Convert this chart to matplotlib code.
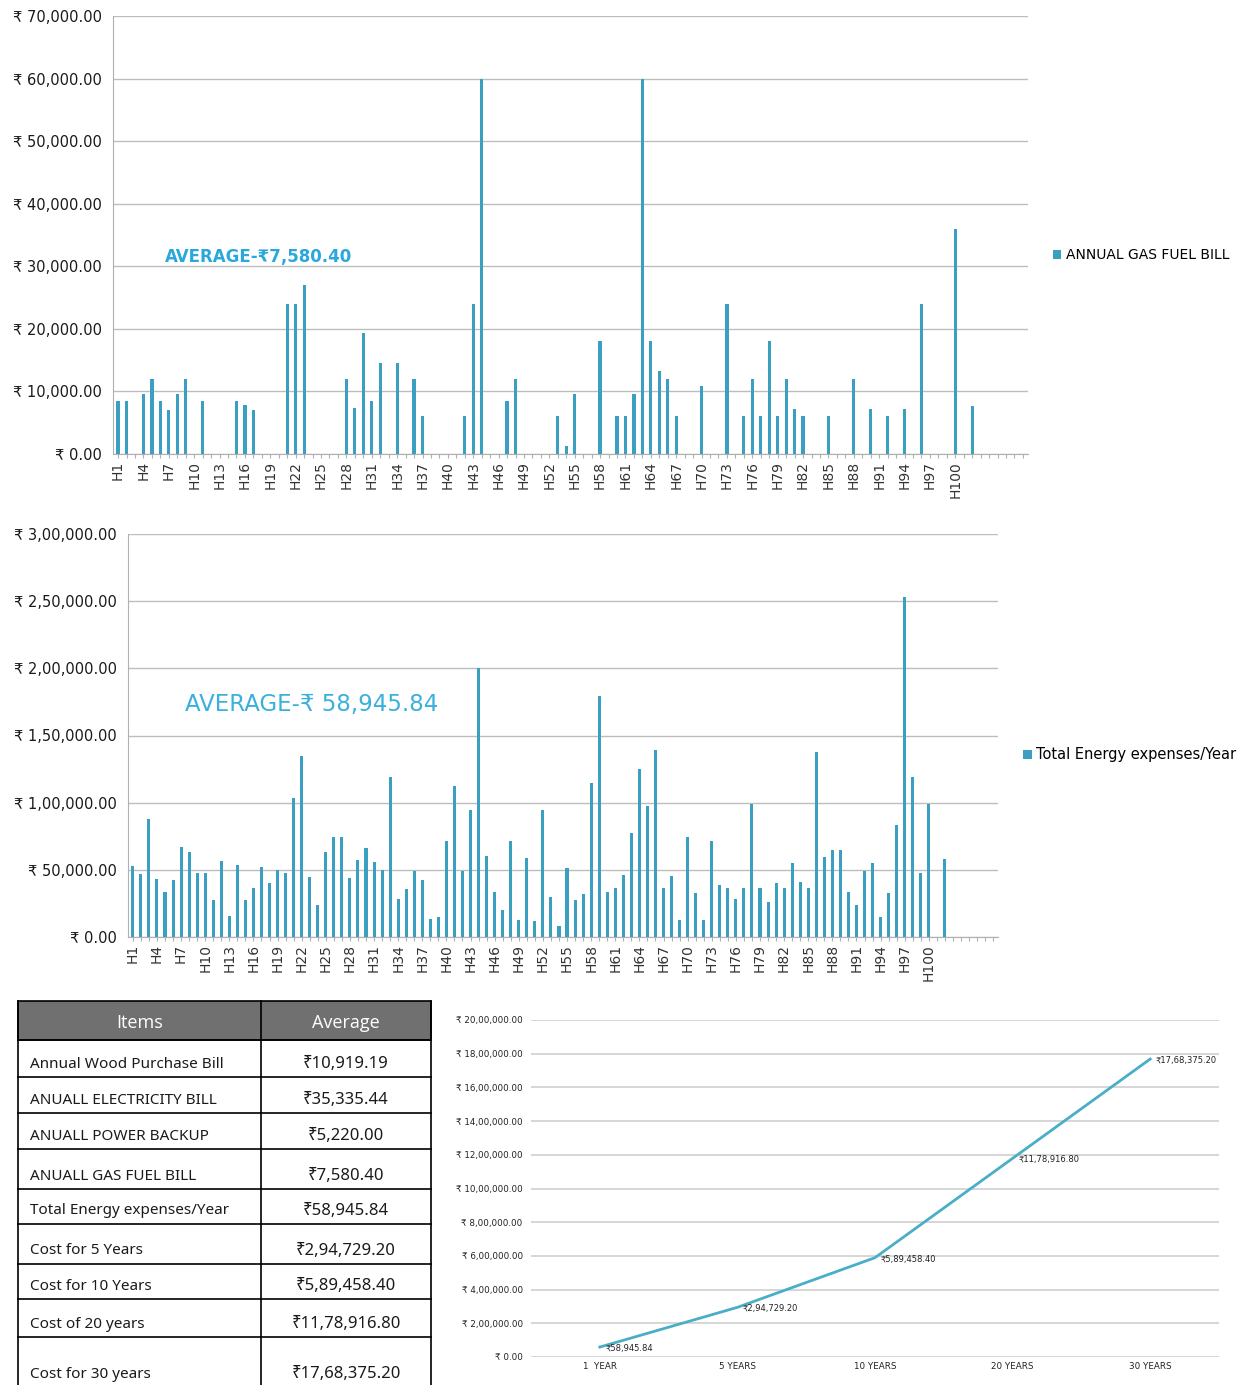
import numpy as np
import matplotlib.pyplot as plt
from matplotlib.patches import Rectangle

plt.rcParams['font.family'] = ['DejaVu Sans']

houses = [f"H{i}" for i in range(1, 101)] + [""] * 8

gas_fuel_bill = [
    8400, 8400, 0, 9600, 12000, 8400, 7100, 9600, 12000, 0,
    8400, 0, 0, 0, 8400, 7900, 7100, 0, 0, 0,
    24000, 24000, 27000, 0, 0, 0, 0, 12000, 7300, 19300,
    8400, 14500, 0, 14500, 0, 12000, 6000, 0, 0, 0,
    0, 6000, 24000, 60000, 0, 0, 8400, 12000, 0, 0,
    0, 0, 6000, 1300, 9600, 0, 0, 18000, 0, 6000,
    6000, 9600, 60000, 18000, 13200, 12000, 6000, 0, 0, 10800,
    0, 0, 24000, 0, 6000, 12000, 6000, 18000, 6000, 12000,
    7200, 6000, 0, 0, 6000, 0, 0, 12000, 0, 7200,
    0, 6000, 0, 7200, 0, 24000, 0, 0, 0, 36000,
    0, 7600, 0, 0, 0, 0, 0, 0,
]

total_energy = [
    52500, 47000, 87900, 43300, 33400, 42100, 66800, 63100, 47500, 47500,
    27200, 56400, 15300, 53700, 27200, 36400, 52000, 40100, 50000, 47500,
    103500, 134900, 44500, 24000, 63100, 74700, 74700, 43800, 57400, 66300,
    55700, 50000, 119300, 28000, 35900, 49000, 42100, 13100, 14900, 71300,
    112600, 49500, 94800, 200000, 60100, 33400, 19800, 71300, 12400, 58900,
    11600, 94800, 30000, 7900, 51200, 27700, 31700, 114300, 179400, 33400,
    36400, 46500, 77500, 125000, 97800, 139100, 36400, 45300, 12400, 74700,
    32900, 12900, 71800, 38400, 36400, 28000, 36400, 99000, 36400, 26000,
    40100, 36400, 54900, 40800, 36400, 137400, 59400, 65100, 65100, 33400,
    24000, 49500, 54900, 14900, 32900, 83700, 253000, 119300, 47500, 99000,
    0, 58200, 0, 0, 0, 0, 0, 0,
]

years = ["1  YEAR", "5 YEARS", "10 YEARS", "20 YEARS", "30 YEARS"]
cumulative_cost = [58945.84, 294729.20, 589458.40, 1178916.80, 1768375.20]

table_items = ["Annual Wood Purchase Bill", "ANUALL ELECTRICITY BILL", "ANUALL POWER BACKUP",
               "ANUALL GAS FUEL BILL", "Total Energy expenses/Year", "Cost for 5 Years",
               "Cost for 10 Years", "Cost of 20 years", "Cost for 30 years"]
table_values = ["₹10,919.19", "₹35,335.44", "₹5,220.00", "₹7,580.40", "₹58,945.84",
                "₹2,94,729.20", "₹5,89,458.40", "₹11,78,916.80", "₹17,68,375.20"]

BAR = '#3a9fc0'
GRID = '#bdbdbd'
W, H = 1246, 1385


def inr(v):
    # indian digit grouping: 17,68,375.20
    whole, frac = f"{v:.2f}".split('.')
    if len(whole) > 3:
        head, tail = whole[:-3], whole[-3:]
        groups = []
        while len(head) > 2:
            groups.insert(0, head[-2:])
            head = head[:-2]
        if head:
            groups.insert(0, head)
        whole = ','.join(groups + [tail])
    return whole + '.' + frac


def box(l, t, r, b):
    return [l / W, 1 - b / H, (r - l) / W, (b - t) / H]


def bar_panel(ax, values, ymax, step, label):
    x = np.arange(len(values))
    bars = ax.bar(x, values, width=0.38, color=BAR, label=label, zorder=3)
    ax.set_xlim(-0.6, len(values) - 0.4)
    ax.set_ylim(0, ymax)
    ax.set_yticks(np.arange(0, ymax + 1, step))
    ax.yaxis.set_major_formatter(lambda v, p: "₹ " + inr(v))
    ax.set_xticks(x)
    ax.set_xticklabels([h if i % 3 == 0 else "" for i, h in enumerate(houses)],
                       rotation=90, fontsize=10, color='#333333')
    ax.grid(axis='y', color=GRID, lw=1, zorder=0)
    for s in ['top', 'right']:
        ax.spines[s].set_visible(False)
    ax.spines['left'].set_color('#b0b0b0')
    ax.spines['bottom'].set_color('#b0b0b0')
    ax.tick_params(axis='y', length=0, labelsize=10.5, labelcolor='#1a1a1a', pad=8)
    ax.tick_params(axis='x', length=3, color='#b0b0b0', pad=2)
    return bars


fig = plt.figure(figsize=(W / 100, H / 100), dpi=100)

# annual gas fuel bill
ax1 = fig.add_axes(box(113, 16, 1028, 454))
b1 = bar_panel(ax1, gas_fuel_bill, 70000, 10000, "ANNUAL GAS FUEL BILL")
ax1.text(0.057, 0.45, "AVERAGE-₹7,580.40", transform=ax1.transAxes, fontsize=12,
         fontweight='bold', color='#2aa8dc', va='center')
ax1.legend(handles=[b1], loc='center left', bbox_to_anchor=(1053 / W, 1 - 255 / H),
           bbox_transform=fig.transFigure, frameon=False, fontsize=10,
           handlelength=0.6, handleheight=0.6, handletextpad=0.3, borderpad=0, borderaxespad=0)

# total energy expenses
ax2 = fig.add_axes(box(128, 534, 998, 937))
b2 = bar_panel(ax2, total_energy, 300000, 50000, "Total Energy expenses/Year")
ax2.text(0.0655, 0.576, "AVERAGE-₹ 58,945.84", transform=ax2.transAxes, fontsize=16.5,
         color='#3ab0dc', va='center')
ax2.legend(handles=[b2], loc='center left', bbox_to_anchor=(1023 / W, 1 - 755 / H),
           bbox_transform=fig.transFigure, frameon=False, fontsize=10.5,
           handlelength=0.6, handleheight=0.6, handletextpad=0.3, borderpad=0, borderaxespad=0)

# cumulative cost line
ax3 = fig.add_axes(box(531, 1020, 1219, 1357))
xs = np.arange(len(years))
ax3.plot(xs, cumulative_cost, color='#4aaec8', lw=2, zorder=3)
for xv, yv in zip(xs, cumulative_cost):
    ax3.annotate("₹" + inr(yv), (xv, yv), xytext=(4, -1), textcoords='offset points',
                 fontsize=6, va='center', ha='left', color='#222222')
ax3.set_xlim(-0.5, len(years) - 0.5)
ax3.set_ylim(0, 2000000)
ax3.set_yticks(np.arange(0, 2000001, 200000))
ax3.yaxis.set_major_formatter(lambda v, p: "₹ " + inr(v))
ax3.set_xticks(xs)
ax3.set_xticklabels(years)
ax3.grid(axis='y', color='#d0d0d0', lw=1.2, zorder=0)
for s in ax3.spines.values():
    s.set_visible(False)
ax3.tick_params(length=0, labelsize=6.3, labelcolor='#222222')
ax3.tick_params(axis='y', pad=6)

# summary table
ax4 = fig.add_axes(box(0, 990, 440, 1385))
ax4.set_xlim(0, 440)
ax4.set_ylim(1385, 990)
ax4.axis('off')
left, mid, right = 18, 261, 431
rows = [1001, 1040, 1077, 1113, 1149, 1189, 1224, 1264, 1299, 1337, 1387]
ax4.add_patch(Rectangle((left, rows[0]), right - left, rows[1] - rows[0],
                        facecolor='#707070', edgecolor='black', lw=1.2))
ax4.text((left + mid) / 2, (rows[0] + rows[1]) / 2 + 2, "Items", color='white',
         fontsize=13, ha='center', va='center', family=['Open Sans', 'DejaVu Sans'])
ax4.text((mid + right) / 2, (rows[0] + rows[1]) / 2 + 2, "Average", color='white',
         fontsize=13, ha='center', va='center', family=['Open Sans', 'DejaVu Sans'])
for yv in rows[1:]:
    ax4.plot([left, right], [yv, yv], color='black', lw=1.2)
for xv in [left, mid, right]:
    ax4.plot([xv, xv], [rows[0], rows[-1]], color='black', lw=1.2)
for i, (item, val) in enumerate(zip(table_items, table_values)):
    ty = rows[i + 2] - 13
    ax4.text(30, ty, item, fontsize=11, ha='left', va='center', color='#1a1a1a',
             family=['Noto Sans', 'DejaVu Sans'])
    ax4.text((mid + right) / 2, ty, val, fontsize=12, ha='center', va='center',
             color='#1a1a1a', family=['Noto Sans', 'DejaVu Sans'])

fig.savefig('out.png', dpi=100)
